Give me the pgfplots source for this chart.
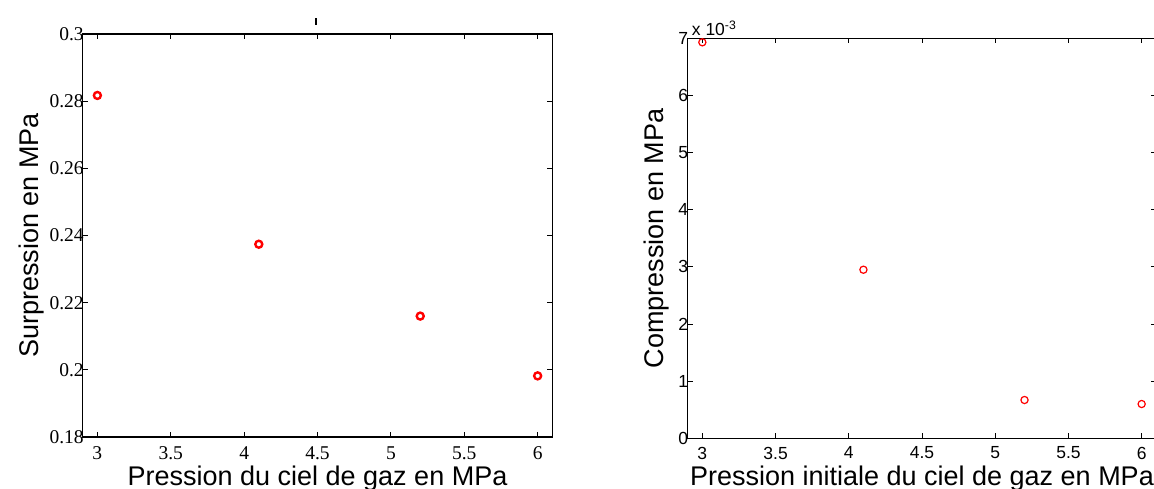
\documentclass[border=0pt]{standalone}
\usepackage{fontspec}
\setmainfont{Liberation Sans}
\newfontfamily\serifT{Liberation Serif}
\usepackage{pgfplots}
\pgfplotsset{compat=1.18}
\begin{document}
\begin{tikzpicture}
\useasboundingbox (0pt,0pt) rectangle (1154pt,489pt);
\pgfplotsset{
  every axis/.append style={
    scale only axis,
    anchor=south west,
    axis line style={line width=1.1pt},
    tick align=inside,
    major tick length=5pt,
    every tick/.style={black, line width=0.9pt},
    /pgf/number format/assume math mode=true,
    xmin=2.9, xmax=6.1,
    xtick={3,3.5,4,4.5,5,5.5,6},
    xticklabels={3,3.5,4,4.5,5,5.5,6},
    label style={font=\fontsize{27}{27}\selectfont},
  }
}
% Left axis
\begin{axis}[
  at={(82.7pt,52pt)}, width=469.6pt, height=403pt,
  ymin=0.18, ymax=0.3,
  ytick={0.18,0.2,0.22,0.24,0.26,0.28,0.3},
  yticklabels={0.18,0.2,0.22,0.24,0.26,0.28,0.3},
  tick label style={font=\serifT\fontsize{19.5}{19.5}\selectfont},
  yticklabel style={xshift=4.5pt},
  xticklabel style={yshift=-6pt},
  xlabel={Pression du ciel de gaz en MPa},
  ylabel={Surpression en MPa},
  xlabel style={at={(axis description cs:0.5,-0.12)}, anchor=base},
  ylabel style={at={(axis description cs:-0.108,0.5)}, anchor=center},
  title={\rule{1.8pt}{7pt}},
  title style={at={(rel axis cs:0.497,1)}, anchor=south, yshift=3pt, inner sep=0pt},
]
\addplot[only marks, mark=o, mark size=3.5pt, red, mark options={line width=2.4pt}]
  coordinates {(3,0.2817) (4.1,0.2374) (5.2,0.2160) (6,0.1982)};
\end{axis}
% Right axis
\begin{axis}[
  at={(687.7pt,50.7pt)}, width=468.6pt, height=400pt,
  ymin=0, ymax=0.007,
  ytick={0,0.001,0.002,0.003,0.004,0.005,0.006,0.007},
  scaled y ticks=base 10:3,
  ytick scale label code/.code={x 10\textsuperscript{#1}},
  every y tick scale label/.style={at={(rel axis cs:0,1)}, anchor=south west, inner sep=0pt, yshift=2pt, font=\fontsize{17.5}{17.5}\selectfont},
  tick label style={font=\fontsize{17.5}{17.5}\selectfont},
  yticklabel style={xshift=4pt},
  xticklabel style={yshift=-5pt},
  xlabel={Pression initiale du ciel de gaz en MPa},
  ylabel={Compression en MPa},
  xlabel style={at={(axis description cs:0.5,-0.117)}, anchor=base},
  ylabel style={at={(axis description cs:-0.066,0.5)}, anchor=center},
]
\addplot[only marks, mark=o, mark size=3.6pt, red, mark options={line width=1.2pt}]
  coordinates {(3,0.00693) (4.1,0.00295) (5.2,0.00067) (6,0.00060)};
\end{axis}
\end{tikzpicture}
\end{document}
